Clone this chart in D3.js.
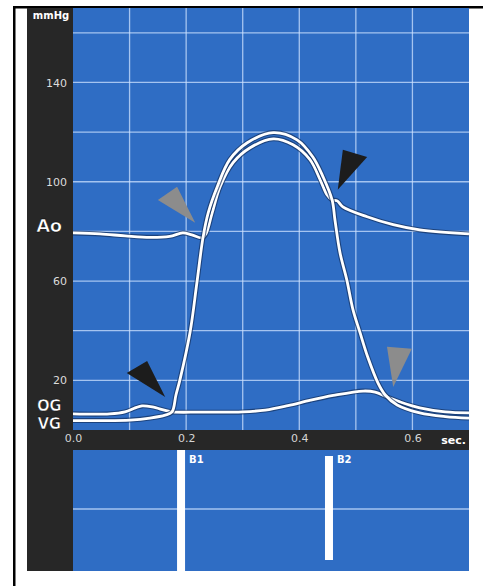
<!DOCTYPE html>
<html>
<head>
<meta charset="utf-8">
<script src="https://cdn.jsdelivr.net/npm/d3@7"></script>
<style>
  body { margin: 0; background: #fff; }
  text { font-family: "DejaVu Sans", sans-serif; }
</style>
</head>
<body>
<div id="chart"></div>
<script>
// time in sec, pressure in mmHg
const aoT = [0, 0.048, 0.092, 0.136, 0.171, 0.194, 0.210, 0.228, 0.235, 0.246, 0.260, 0.283, 0.313, 0.354, 0.389, 0.419, 0.437, 0.449, 0.458, 0.467, 0.477, 0.520, 0.566, 0.613, 0.700]
const aoP = [79.4, 79.0, 78.2, 77.6, 78.0, 79.4, 78.6, 77.4, 79.0, 87.5, 98, 107.7, 113.7, 117.3, 114.9, 108.9, 100.8, 94.8, 92.7, 92.3, 89.9, 85.9, 82.7, 80.6, 79.0]

const vgT = [0, 0.048, 0.101, 0.136, 0.163, 0.175, 0.182, 0.189, 0.207, 0.219, 0.230, 0.239, 0.255, 0.277, 0.308, 0.354, 0.396, 0.424, 0.442, 0.458, 0.463, 0.472, 0.484, 0.495, 0.507, 0.521, 0.539, 0.552, 0.573, 0.613, 0.658, 0.700]
const vgP = [3.8, 3.8, 4.0, 4.8, 6.0, 7.3, 14.1, 20.2, 39.5, 59.3, 77.8, 87.5, 98, 108.9, 115.7, 119.8, 116.9, 110, 102, 92.7, 84.7, 71.4, 60.5, 48.4, 39.5, 29.4, 19, 14.1, 10.1, 6.9, 5.4, 4.8]

const ogT = [0, 0.065, 0.092, 0.110, 0.122, 0.140, 0.163, 0.175, 0.224, 0.300, 0.340, 0.380, 0.420, 0.460, 0.513, 0.534, 0.555, 0.578, 0.613, 0.658, 0.700]
const ogP = [6.5, 6.5, 7.3, 8.9, 9.7, 9.3, 7.9, 7.3, 7.2, 7.3, 8.0, 9.8, 12.0, 13.9, 15.7, 15.3, 13.3, 11.3, 8.9, 7.3, 6.9]

const yTicks = [20, 60, 100, 140]
const yGrid = [20, 40, 60, 80, 100, 120, 140, 160]
const xTicks = [0, 0.2, 0.4, 0.6]
const xGrid = [0.1, 0.2, 0.3, 0.4, 0.5, 0.6]

// valve events in the lower strip
const beats = [{ t: 0.191, label: 'B1' }, { t: 0.4525, label: 'B2' }]

// arrows, vertices in (sec, mmHg)
const arrows = [
  { fill: '#8c8c8c', pts: [[0.150, 92.7], [0.184, 98], [0.216, 83.5]] },
  { fill: '#1c1c1c', pts: [[0.477, 112.9], [0.520, 110], [0.468, 96.8]] },
  { fill: '#1c1c1c', pts: [[0.095, 23], [0.131, 27.8], [0.163, 13.3]] },
  { fill: '#8c8c8c', pts: [[0.555, 33.5], [0.599, 32.7], [0.566, 17.3]] }
]

const W = 483, H = 586
const blue = '#2f6dc4'
const dark = '#272727'
const gridCol = 'rgba(205,225,255,0.75)'

const svg = d3.select('#chart').append('svg')
  .attr('width', W).attr('height', H)

const x = d3.scaleLinear().domain([0, 0.7]).range([73, 469])
const y = d3.scaleLinear().domain([0, 170]).range([430, 8])

// frame
svg.append('rect').attr('x', 13).attr('y', 6).attr('width', W - 13).attr('height', 2.5).attr('fill', '#000')
svg.append('rect').attr('x', 13).attr('y', 6).attr('width', 2.5).attr('height', H - 6).attr('fill', '#000')

// dark side panel and axis band
svg.append('rect').attr('x', 27).attr('y', 8).attr('width', 46).attr('height', 563).attr('fill', dark)
svg.append('rect').attr('x', 27).attr('y', 430).attr('width', 442).attr('height', 20).attr('fill', dark)

// blue plot areas
svg.append('rect').attr('x', x(0)).attr('y', y(170)).attr('width', x(0.7) - x(0)).attr('height', y(0) - y(170)).attr('fill', blue)
svg.append('rect').attr('x', x(0)).attr('y', 450).attr('width', x(0.7) - x(0)).attr('height', 121).attr('fill', blue)

// grid
svg.append('g').selectAll('line').data(yGrid).join('line')
  .attr('x1', x(0)).attr('x2', x(0.7))
  .attr('y1', d => y(d)).attr('y2', d => y(d))
  .attr('stroke', gridCol).attr('stroke-width', 1.3)
svg.append('g').selectAll('line').data(xGrid).join('line')
  .attr('x1', d => x(d)).attr('x2', d => x(d))
  .attr('y1', y(170)).attr('y2', y(0))
  .attr('stroke', gridCol).attr('stroke-width', 1.3)

// y axis labels
const yAxis = svg.append('g')
  .attr('transform', `translate(${x(0) - 4},0)`)
  .call(d3.axisLeft(y).tickValues(yTicks).tickSize(0).tickPadding(2))
yAxis.select('.domain').remove()
yAxis.selectAll('text').attr('fill', '#dcdcdc').style('font-size', '11px')
  .style('font-family', '"DejaVu Sans", sans-serif')

// x axis labels
const xAxis = svg.append('g')
  .attr('transform', 'translate(0,434)')
  .call(d3.axisBottom(x).tickValues(xTicks).tickSize(0).tickPadding(0).tickFormat(d3.format('.1f')))
xAxis.select('.domain').remove()
xAxis.selectAll('text').attr('fill', '#d6d6d6').style('font-size', '11px')
  .style('font-family', '"DejaVu Sans", sans-serif')

svg.append('text').attr('x', 466).attr('y', 444).attr('text-anchor', 'end')
  .attr('fill', '#fff').style('font-size', '11px').style('font-weight', 'bold').text('sec.')
svg.append('text').attr('x', 51).attr('y', 19).attr('text-anchor', 'middle')
  .attr('fill', '#fff').style('font-size', '10px').style('font-weight', 'bold').text('mmHg')

// curve labels
const big = (txt, cy, fs) => svg.append('text').attr('x', 49).attr('y', cy).attr('text-anchor', 'middle')
  .attr('fill', '#fff').attr('stroke', '#000').attr('stroke-width', 0.6)
  .style('font-size', fs + 'px').style('font-weight', 'bold').style('letter-spacing', '-0.5px').text(txt)
big('Ao', 232, 18)
big('OG', 410.5, 15)
big('VG', 429, 15)

// curves
const line = d3.line().x(d => x(d[0])).y(d => y(d[1])).curve(d3.curveCatmullRom.alpha(0.5))
const series = [d3.zip(ogT, ogP), d3.zip(aoT, aoP), d3.zip(vgT, vgP)]
series.forEach(s => {
  svg.append('path').datum(s).attr('d', line).attr('fill', 'none')
    .attr('stroke', '#14305e').attr('stroke-opacity', 0.7).attr('stroke-width', 5)
  svg.append('path').datum(s).attr('d', line).attr('fill', 'none')
    .attr('stroke', '#fff').attr('stroke-width', 2.8)
})

// arrows
svg.append('g').selectAll('path').data(arrows).join('path')
  .attr('d', d => 'M' + d.pts.map(p => [x(p[0]), y(p[1])].join(',')).join('L') + 'Z')
  .attr('fill', d => d.fill)

// lower strip: midline + valve bars
svg.append('line').attr('x1', x(0)).attr('x2', x(0.7)).attr('y1', 509).attr('y2', 509)
  .attr('stroke', gridCol).attr('stroke-width', 1.3)
svg.append('g').selectAll('rect').data(beats).join('rect')
  .attr('x', d => x(d.t) - 4).attr('width', 8)
  .attr('y', (d, i) => i === 0 ? 450 : 456)
  .attr('height', (d, i) => i === 0 ? 121 : 104)
  .attr('fill', '#fff')
svg.append('g').selectAll('text').data(beats).join('text')
  .attr('x', d => x(d.t) + 8).attr('y', 463)
  .attr('fill', '#fff').style('font-size', '10px').style('font-weight', 'bold')
  .text(d => d.label)
</script>
</body>
</html>
